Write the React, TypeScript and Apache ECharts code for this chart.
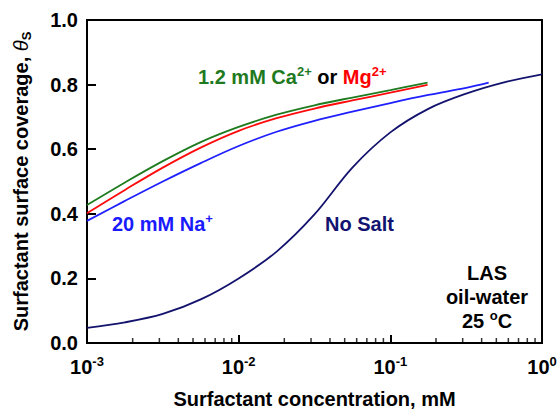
import React, { useEffect, useRef } from "react";
import * as echarts from "echarts";

// Surfactant concentration (mM), read at quarter-decade steps, and surface coverage θS
const caMgX = [0.001, 0.00178, 0.00316, 0.00562, 0.01, 0.0178, 0.0316, 0.0562, 0.1, 0.176];
const caY = [0.427, 0.497, 0.563, 0.622, 0.669, 0.707, 0.736, 0.76, 0.783, 0.806];
const mgY = [0.402, 0.474, 0.543, 0.605, 0.657, 0.696, 0.726, 0.751, 0.775, 0.799];

const naX = [0.001, 0.00178, 0.00316, 0.00562, 0.01, 0.0178, 0.0316, 0.0562, 0.1, 0.178, 0.316, 0.445];
const naY = [0.378, 0.44, 0.5, 0.557, 0.61, 0.654, 0.688, 0.716, 0.743, 0.768, 0.79, 0.806];

const noSaltX = [0.001, 0.00178, 0.00316, 0.00562, 0.01, 0.0178, 0.0316, 0.0562, 0.1, 0.178, 0.316, 0.562, 1.0];
const noSaltY = [0.047, 0.064, 0.09, 0.135, 0.2, 0.283, 0.398, 0.543, 0.652, 0.725, 0.772, 0.807, 0.832];

const xMajorTicks = [0.001, 0.01, 0.1, 1];
const xMinorTicks = [
  0.002, 0.003, 0.004, 0.005, 0.006, 0.007, 0.008, 0.009,
  0.02, 0.03, 0.04, 0.05, 0.06, 0.07, 0.08, 0.09,
  0.2, 0.3, 0.4, 0.5, 0.6, 0.7, 0.8, 0.9,
];
const yTicks = [0, 0.2, 0.4, 0.6, 0.8, 1.0];

const FONT = "'Liberation Sans', Arial, Helvetica, sans-serif";
const FS = 20;

const zip = (xs: number[], ys: number[]) => xs.map((x, i) => [x, ys[i]]);

export default function App() {
  const ref = useRef<HTMLDivElement>(null);
  useEffect(() => {
    if (!ref.current) return;
    const chart = echarts.init(ref.current, undefined, { renderer: "svg" });
    const bold = { fontFamily: FONT, fontWeight: "bold" as const };
    const lineSeries = (name: string, xs: number[], ys: number[], color: string) => ({
      type: "line",
      name,
      data: zip(xs, ys),
      smooth: 0.35,
      showSymbol: false,
      lineStyle: { color, width: 1.8 },
    });
    chart.setOption({
      animation: false,
      backgroundColor: "#fff",
      grid: {
        left: 87,
        right: 18,
        top: 20,
        bottom: 67,
        show: true,
        borderColor: "#000",
        borderWidth: 2,
        backgroundColor: "transparent",
      },
      xAxis: {
        type: "log",
        logBase: 10,
        min: xMajorTicks[0],
        max: xMajorTicks[xMajorTicks.length - 1],
        name: "Surfactant concentration, mM",
        nameLocation: "middle",
        nameGap: 46,
        nameTextStyle: { ...bold, fontSize: FS, color: "#000" },
        axisLine: { lineStyle: { color: "#000", width: 2 } },
        axisTick: { inside: true, length: 8, lineStyle: { color: "#000", width: 2 } },
        splitLine: { show: false },
        axisLabel: {
          margin: 12,
          showMinLabel: true,
          showMaxLabel: true,
          formatter: (v: number) => `{b|10}{s|${Math.round(Math.log10(v))}}`,
          rich: {
            b: { ...bold, fontSize: FS, color: "#000", lineHeight: 24 },
            s: { ...bold, fontSize: 13, color: "#000", verticalAlign: "top", lineHeight: 13 },
          },
        },
      },
      yAxis: {
        type: "value",
        min: yTicks[0],
        max: yTicks[yTicks.length - 1],
        interval: 0.2,
        name: "Surfactant surface coverage, {i|θ}{sub|S}",
        nameLocation: "middle",
        nameGap: 54,
        nameRotate: 90,
        nameTextStyle: {
          ...bold,
          fontSize: FS,
          color: "#000",
          rich: {
            i: { fontFamily: FONT, fontSize: FS, fontStyle: "italic", fontWeight: "normal", color: "#000", lineHeight: 24 },
            sub: { ...bold, fontSize: 13, color: "#000", verticalAlign: "bottom", lineHeight: 13 },
          },
        },
        axisLine: { show: true, lineStyle: { color: "#000", width: 2 } },
        axisTick: { show: true, inside: true, length: 9, lineStyle: { color: "#000", width: 2 } },
        splitLine: { show: false },
        axisLabel: {
          margin: 9,
          ...bold,
          fontSize: FS,
          color: "#000",
          formatter: (v: number) => v.toFixed(1),
        },
      },
      series: [
        lineSeries("No Salt", noSaltX, noSaltY, "#13136e"),
        lineSeries("20 mM Na+", naX, naY, "#1f1fff"),
        lineSeries("1.2 mM Mg2+", caMgX, mgY, "#ff0a0a"),
        lineSeries("1.2 mM Ca2+", caMgX, caY, "#1e7b1e"),
        {
          type: "scatter",
          name: "minor ticks",
          data: xMinorTicks.map((x) => [x, 0]),
          symbol: "rect",
          symbolSize: [1.5, 5],
          symbolOffset: [0, -2.5],
          itemStyle: { color: "#000" },
          silent: true,
          clip: false,
          z: 5,
        },
      ],
      graphic: [
        {
          type: "text",
          x: 198,
          y: 76.5,
          silent: true,
          style: {
            text: "{g|1.2 mM Ca}{gs|2+}{k| or }{r|Mg}{rs|2+}",
            verticalAlign: "middle",
            rich: {
              g: { ...bold, fontSize: FS, fill: "#1f7a1f", lineHeight: 24 },
              gs: { ...bold, fontSize: 13, fill: "#1f7a1f", verticalAlign: "top", lineHeight: 13 },
              k: { ...bold, fontSize: FS, fill: "#000", lineHeight: 24 },
              r: { ...bold, fontSize: FS, fill: "#ff0000", lineHeight: 24 },
              rs: { ...bold, fontSize: 13, fill: "#ff0000", verticalAlign: "top", lineHeight: 13 },
            },
          },
        },
        {
          type: "text",
          x: 112,
          y: 223.5,
          silent: true,
          style: {
            text: "{b|20 mM Na}{s|+}",
            verticalAlign: "middle",
            rich: {
              b: { ...bold, fontSize: FS, fill: "#1a1aff", lineHeight: 24 },
              s: { ...bold, fontSize: 13, fill: "#1a1aff", verticalAlign: "top", lineHeight: 13 },
            },
          },
        },
        {
          type: "text",
          x: 325,
          y: 223.5,
          silent: true,
          style: {
            text: "No Salt",
            ...bold,
            fontSize: FS,
            fill: "#121270",
            verticalAlign: "middle",
          },
        },
        {
          type: "text",
          x: 487,
          y: 297,
          silent: true,
          style: {
            text: "{m|LAS}\n{m|oil-water}\n{m|25 }{s|o}{m|C}",
            align: "center",
            verticalAlign: "middle",
            rich: {
              m: { ...bold, fontSize: FS, fill: "#000", lineHeight: 24 },
              s: { ...bold, fontSize: 13, fill: "#000", verticalAlign: "top", lineHeight: 13 },
            },
          },
        },
      ],
    });
    return () => chart.dispose();
  }, []);
  return (
    <div
      ref={ref}
      style={{ position: "fixed", left: 0, top: 0, width: 560, height: 414, background: "#fff" }}
    />
  );
}
